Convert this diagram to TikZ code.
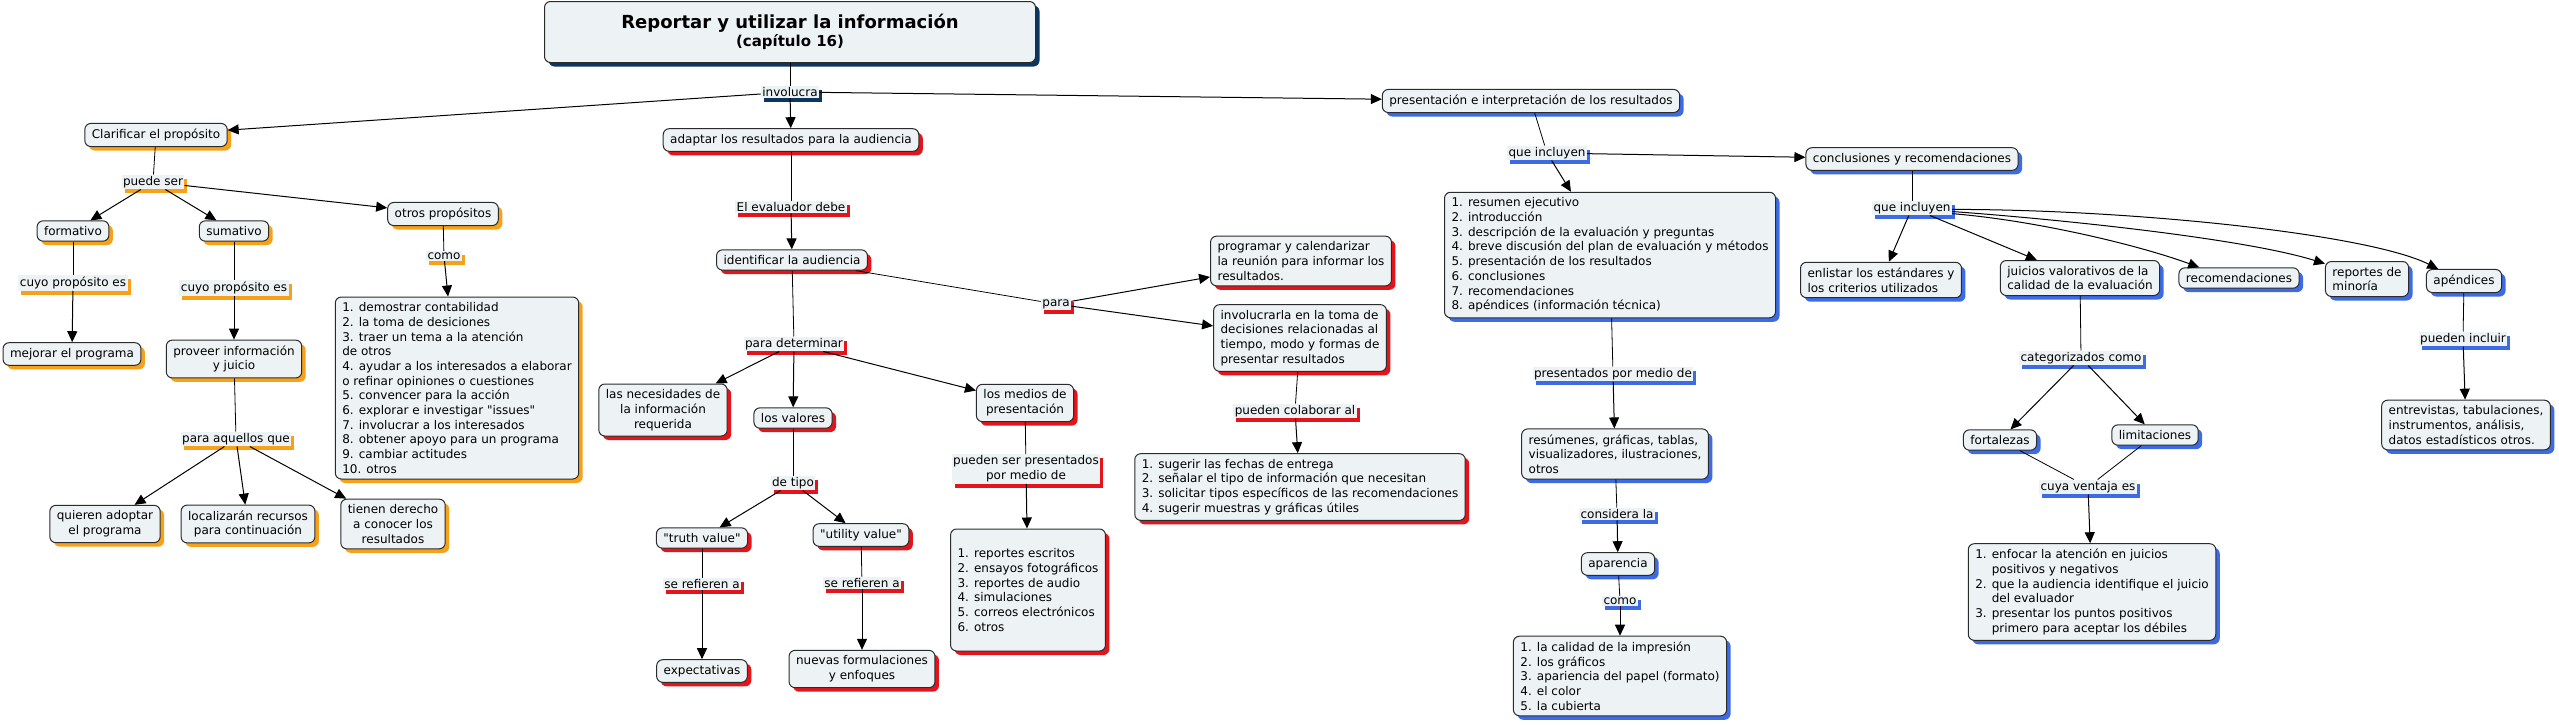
\documentclass[tikz,border=0pt]{standalone}
\usepackage{fontspec}
\setmainfont{DejaVu Sans}
\newfontfamily\qtfont{DejaVu Sans}
\usetikzlibrary{arrows.meta,shadows}
\definecolor{cfill}{HTML}{EDF2F4}
\definecolor{cline}{HTML}{2B2B2B}
\definecolor{cora}{HTML}{F7A11A}
\definecolor{cred}{HTML}{E5141B}
\definecolor{cblu}{HTML}{3D6BE6}
\definecolor{cnav}{HTML}{0D3561}
\newcommand{\mapfont}{\fontsize{12pt}{14.7pt}\selectfont}
\newcommand{\dq}{{\qtfont"}}

\begin{document}
\begin{tikzpicture}[
  x=1pt, y=-1pt,
  concept/.style={draw=cline,line width=1pt,rounded corners=6pt,fill=cfill,inner xsep=7pt,inner ysep=5.5pt,font=\mapfont,align=center},
  orbox/.style={concept,drop shadow={shadow xshift=4pt,shadow yshift=-4pt,fill=cora,opacity=1}},
  rdbox/.style={concept,drop shadow={shadow xshift=4pt,shadow yshift=-4pt,fill=cred,opacity=1}},
  blbox/.style={concept,drop shadow={shadow xshift=4pt,shadow yshift=-4pt,fill=cblu,opacity=1}},
  link/.style={fill=cfill,inner xsep=1.5pt,inner ysep=1.5pt,font=\mapfont,align=center},
  nvlab/.style={link,drop shadow={shadow xshift=3pt,shadow yshift=-4pt,fill=cnav,opacity=1}},
  orlab/.style={link,drop shadow={shadow xshift=3pt,shadow yshift=-4pt,fill=cora,opacity=1}},
  rdlab/.style={link,drop shadow={shadow xshift=3pt,shadow yshift=-4pt,fill=cred,opacity=1}},
  bllab/.style={link,drop shadow={shadow xshift=3pt,shadow yshift=-4pt,fill=cblu,opacity=1}},
  ln/.style={line width=0.8pt},
  arr/.style={-{Triangle[length=11pt,width=10pt]},line width=1pt}
]
\path[use as bounding box,fill=white] (0,0) rectangle (2559,724);

% titulo
\node[concept,minimum width=491pt,minimum height=61pt,
  drop shadow={shadow xshift=4pt,shadow yshift=-4pt,fill=cnav,opacity=1}] (title) at (790,32)
  {{\fontsize{18pt}{22pt}\selectfont\bfseries Reportar y utilizar la información}\\[1pt]
   {\fontsize{15pt}{18pt}\selectfont\bfseries (capítulo 16)}};
\node[nvlab] (involucra) at (790,92) {involucra};

% rama naranja
\node[orbox] (clar) at (156,135) {Clarificar el propósito};
\node[orlab] (puede) at (153,182) {puede ser};
\node[orbox] (form) at (73,231) {formativo};
\node[orbox] (suma) at (234,231) {sumativo};
\node[orbox] (otros) at (443,214) {otros propósitos};
\node[orlab] (cuyo1) at (73,283) {cuyo propósito es};
\node[orlab] (cuyo2) at (234,288) {cuyo propósito es};
\node[orlab] (como1) at (444,256) {como};
\node[orbox] (mejorar) at (72,354) {mejorar el programa};
\node[orbox] (proveer) at (234,359) {proveer información\\y juicio};
\node[orbox,align=left] (otroslist) at (457,388) {1. demostrar contabilidad\\2. la toma de desiciones\\3. traer un tema a la atención\\de otros\\4. ayudar a los interesados a elaborar\\o refinar opiniones o cuestiones\\5. convencer para la acción\\6. explorar e investigar \dq issues\dq\\7. involucrar a los interesados\\8. obtener apoyo para un programa\\9. cambiar actitudes\\10. otros};
\node[orlab] (aquellos) at (236,439) {para aquellos que};
\node[orbox] (quieren) at (105,524) {quieren adoptar\\el programa};
\node[orbox] (localiz) at (248,524) {localizarán recursos\\para continuación};
\node[orbox] (tienen) at (393,524) {tienen derecho\\a conocer los\\resultados};

% rama roja
\node[rdbox] (adapt) at (791,140) {adaptar los resultados para la audiencia};
\node[rdlab] (evaldebe) at (791,207) {El evaluador debe};
\node[rdbox] (ident) at (792,260) {identificar la audiencia};
\node[rdlab] (para) at (1056,304) {para};
\node[rdlab] (paradet) at (794,344) {para determinar};
\node[rdbox] (necesid) at (663,410) {las necesidades de\\la información\\requerida};
\node[rdbox] (valores) at (793,418) {los valores};
\node[rdbox] (medios) at (1025,403) {los medios de\\presentación};
\node[rdlab] (detipo) at (793,483) {de tipo};
\node[rdlab] (pueden1) at (1026,469) {pueden ser presentados\\por medio de};
\node[rdbox] (truth) at (702,538) {\dq truth value\dq};
\node[rdbox] (utility) at (861,535) {\dq utility value\dq};
\node[rdbox,align=left,minimum height=122pt] (medioslist) at (1028,590) {1. reportes escritos\\2. ensayos fotográficos\\3. reportes de audio\\4. simulaciones\\5. correos electrónicos\\6. otros};
\node[rdlab] (seref1) at (702,584) {se refieren a};
\node[rdlab] (seref2) at (862,583) {se refieren a};
\node[rdbox] (expect) at (702,671) {expectativas};
\node[rdbox] (nuevas) at (862,669) {nuevas formulaciones\\y enfoques};
\node[rdbox,align=left] (programar) at (1301,261) {programar y calendarizar\\la reunión para informar los\\resultados.};
\node[rdbox,align=left] (involuc) at (1300,338) {involucrarla en la toma de\\decisiones relacionadas al\\tiempo, modo y formas de\\presentar resultados};
\node[rdlab] (colabor) at (1295,411) {pueden colaborar al};
\node[rdbox,align=left] (sugerir) at (1300,487) {1. sugerir las fechas de entrega\\2. señalar el tipo de información que necesitan\\3. solicitar tipos específicos de las recomendaciones\\4. sugerir muestras y gráficas útiles};

% rama azul
\node[blbox] (presen) at (1531,101) {presentación e interpretación de los resultados};
\node[bllab] (qi1) at (1547,153) {que incluyen};
\node[blbox] (concl) at (1912,159) {conclusiones y recomendaciones};
\node[blbox,align=left] (resumen) at (1610,255) {1. resumen ejecutivo\\2. introducción\\3. descripción de la evaluación y preguntas\\4. breve discusión del plan de evaluación y métodos\\5. presentación de los resultados\\6. conclusiones\\7. recomendaciones\\8. apéndices (información técnica)};
\node[bllab] (presmed) at (1613,374) {presentados por medio de};
\node[blbox,align=left] (resum2) at (1615,454) {resúmenes, gráficas, tablas,\\visualizadores, ilustraciones,\\otros};
\node[bllab] (consid) at (1617,514) {considera la};
\node[blbox] (aparen) at (1618,564) {aparencia};
\node[bllab] (como2) at (1620,601) {como};
\node[blbox,align=left] (calidad) at (1620,676) {1. la calidad de la impresión\\2. los gráficos\\3. apariencia del papel (formato)\\4. el color\\5. la cubierta};
\node[bllab] (qi2) at (1912,208) {que incluyen};
\node[blbox,align=left] (enlist) at (1881,280) {enlistar los estándares y\\los criterios utilizados};
\node[blbox,align=left] (juicios) at (2080,278) {juicios valorativos de la\\calidad de la evaluación};
\node[blbox] (recom) at (2239,278) {recomendaciones};
\node[blbox,align=left] (reportes) at (2367,279) {reportes de\\minoría};
\node[blbox] (apend) at (2464,281) {apéndices};
\node[bllab] (categ) at (2081,358) {categorizados como};
\node[bllab] (puedinc) at (2463,339) {pueden incluir};
\node[blbox] (fortal) at (2000,440) {fortalezas};
\node[blbox] (limit) at (2155,435) {limitaciones};
\node[blbox,align=left] (entrev) at (2466,425) {entrevistas, tabulaciones,\\instrumentos, análisis,\\datos estadísticos otros.};
\node[bllab] (ventaja) at (2088,487) {cuya ventaja es};
\node[blbox,align=left] (enfocar) at (2092,592) {1. enfocar la atención en juicios\\\phantom{1. }positivos y negativos\\2. que la audiencia identifique el juicio\\\phantom{2. }del evaluador\\3. presentar los puntos positivos\\\phantom{3. }primero para aceptar los débiles};

% conexiones
\draw[ln] (title) -- (involucra);
\draw[arr] (involucra) -- (clar);
\draw[arr] (involucra) -- (adapt);
\draw[arr] (involucra) -- (presen);

\draw[ln] (clar) -- (puede);
\draw[arr] (puede) -- (form);
\draw[arr] (puede) -- (suma);
\draw[arr] (puede) -- (otros);
\draw[ln] (form) -- (cuyo1);
\draw[arr] (cuyo1) -- (mejorar);
\draw[ln] (suma) -- (cuyo2);
\draw[arr] (cuyo2) -- (proveer);
\draw[ln] (otros) -- (como1);
\draw[arr] (como1) -- (otroslist);
\draw[ln] (proveer) -- (aquellos);
\draw[arr] (aquellos) -- (quieren);
\draw[arr] (aquellos) -- (localiz);
\draw[arr] (aquellos) -- (tienen);

\draw[ln] (adapt) -- (evaldebe);
\draw[arr] (evaldebe) -- (ident);
\draw[ln] (ident) -- (para);
\draw[arr] (para) -- (programar);
\draw[arr] (para) -- (involuc);
\draw[ln] (ident) -- (paradet);
\draw[arr] (paradet) -- (necesid);
\draw[arr] (paradet) -- (valores);
\draw[arr] (paradet) -- (medios);
\draw[ln] (valores) -- (detipo);
\draw[arr] (detipo) -- (truth);
\draw[arr] (detipo) -- (utility);
\draw[ln] (truth) -- (seref1);
\draw[arr] (seref1) -- (expect);
\draw[ln] (utility) -- (seref2);
\draw[arr] (seref2) -- (nuevas);
\draw[ln] (medios) -- (pueden1);
\draw[arr] (pueden1) -- (medioslist);
\draw[ln] (involuc) -- (colabor);
\draw[arr] (colabor) -- (sugerir);

\draw[ln] (presen) -- (qi1);
\draw[arr] (qi1) -- (resumen);
\draw[arr] (qi1) -- (concl);
\draw[ln] (resumen) -- (presmed);
\draw[arr] (presmed) -- (resum2);
\draw[ln] (resum2) -- (consid);
\draw[arr] (consid) -- (aparen);
\draw[ln] (aparen) -- (como2);
\draw[arr] (como2) -- (calidad);
\draw[ln] (concl) -- (qi2);
\draw[arr] (qi2) -- (enlist);
\draw[arr] (qi2) -- (juicios);
\draw[arr] (qi2.-8) .. controls +(85,7) and +(-60,-22) .. (recom.165);
\draw[arr] (qi2.-5) .. controls +(110,8) and +(-80,-25) .. (reportes.160);
\draw[arr] (qi2.-2) .. controls +(180,0) and +(-70,-35) .. (apend.155);
\draw[ln] (juicios) -- (categ);
\draw[arr] (categ) -- (fortal);
\draw[arr] (categ) -- (limit);
\draw[ln] (fortal) -- (ventaja);
\draw[ln] (limit) -- (ventaja);
\draw[arr] (ventaja) -- (enfocar);
\draw[ln] (apend) -- (puedinc);
\draw[arr] (puedinc) -- (entrev);
\end{tikzpicture}
\end{document}
